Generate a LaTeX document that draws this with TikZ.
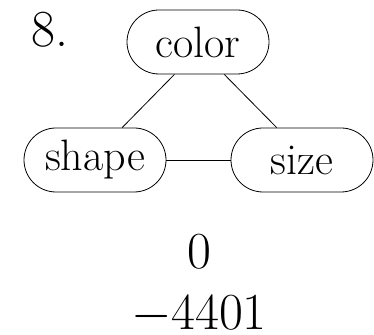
\documentclass[tikz,border=0pt]{standalone}
\usepackage{fix-cm}
\usepackage{amsmath}
\usepackage{tikz}
\usetikzlibrary{shapes.misc,positioning}

\begin{document}
\begin{tikzpicture}[x=0.5pt,y=0.5pt,
    attr/.style={rounded rectangle, draw, minimum width=71pt, minimum height=32pt, inner sep=0pt, font=\fontsize{22}{26}\selectfont},
    num/.style={anchor=base, inner sep=0pt, font=\fontsize{26}{30}\selectfont}]
        \useasboundingbox (0,0) rectangle (374,335);

        \node[num] (label) at (50,288) {8.};
        \node[attr] (color) at (198,293) {color};
        \node[attr] (shape) at (95,175) {shape};
        \node[attr] (size) at (302,175) {size};

        \draw (color.234) -- (shape.50);
        \draw (color.309) -- (size.128);
        \draw (shape.east) -- (size.west);

        \node[num] (gain) at (199,66) {$0$};
        \node[num] (loss) at (199,5) {$-4401$};
    \end{tikzpicture}
\end{document}
